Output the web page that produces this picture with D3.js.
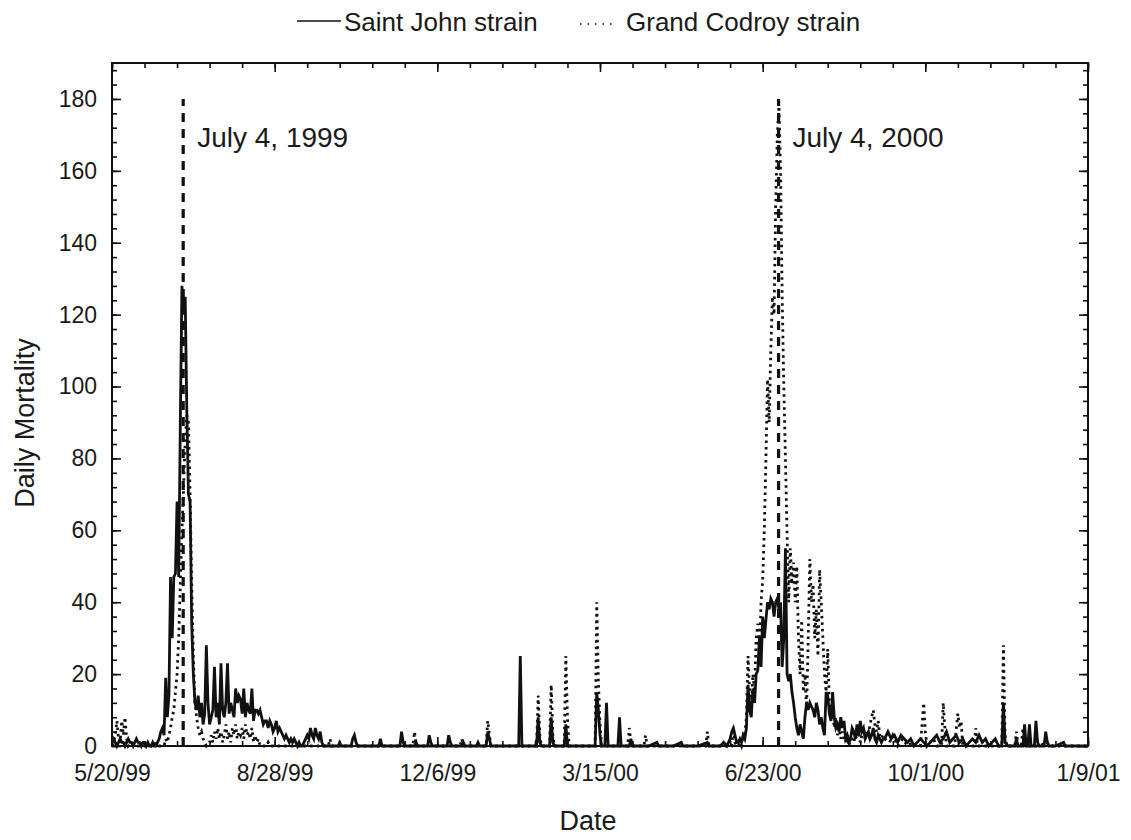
<!DOCTYPE html>
<html>
<head>
<meta charset="utf-8">
<script src="https://cdn.jsdelivr.net/npm/d3@7"></script>
<style>
	body { margin: 0; background: #fff; }
	svg { display: block; font-family: "Liberation Sans", Arial, sans-serif; }
	.tick-label { font-size: 23px; fill: #1a1a1a; }
</style>
</head>
<body>
<div id="chart"></div>
<script>

// day 0 of the record
var startDate = new Date(Date.UTC(1999, 4, 20));

// x tick labels every 100 days, minor ticks every 20
var xMajorDays = [0, 100, 200, 300, 400, 500, 600];
var xMinorDays = d3.range(0, 601, 20);
var yMajor = [0, 20, 40, 60, 80, 100, 120, 140, 160, 180];
var yMinor = d3.range(0, 190, 4);

// Saint John strain, daily values from day 0
var sj1999 = [1,2,1,0,1,2,1,1,0,1,
	2,1,1,0,1,2,1,1,0,1,
	1,0,1,0,0,1,0,0,1,2,
	4,5,3,19,8,14,47,30,47,48,
	68,47,90,128,120,125,93,70,68,34,
	20,12,10,14,8,12,6,9,28,12,
	6,8,10,22,8,12,6,23,10,8,
	12,23,9,12,10,8,16,12,14,13,
	9,16,8,12,10,9,16,7,10,10,
	9,10,8,6,7,7,5,7,6,4,
	5,7,4,5,4,3,2,3,2,1,
	2,1,2,1,0,1,0,0,1,2,
	3,2,5,3,2,5,3,2,4,1,0];

// Saint John strain, [day, value] over the winter
var sjMid = [[131,0],[139,0],[140,1],[141,0],[147,0],[148,2],[149,3],[150,1],[151,0],[164,0],[165,2],[166,0],
	[177,0],[178,4],[179,1],[180,0],[186,0],[187,1],[188,0],[194,0],[195,3],[196,1],[197,0],[206,0],[207,3],[208,1],[209,0],
	[215,0],[216,1],[217,0],[224,0],[225,1],[226,0],[230,0],[231,4],[232,2],[233,0],[250,0],[251,25],[252,0],
	[261,0],[262,8],[263,1],[264,0],[269,0],[270,8],[271,1],[272,0],[278,0],[279,6],[280,0],
	[297,0],[298,15],[299,10],[300,3],[301,0],[303,0],[304,12],[305,0],[311,0],[312,8],[313,0],[318,0],[319,2],[320,0],
	[330,0],[335,1],[336,0],[345,0],[350,1],[351,0],[360,0],[366,1],[367,0],[374,0],[376,1],[378,0],
	[380,2],[381,4],[382,5],[383,3],[384,1]];

// Saint John strain, daily values from day 385
var sj2000 = [1,2,1,3,2,5,17,10,8,16,
	12,20,21,30,22,36,30,35,40,38,
	41,40,36,40,41,38,40,22,30,55,
	20,18,20,15,12,8,5,3,6,4,
	2,8,12,10,12,11,10,8,12,10,
	6,8,5,3,15,14,9,7,15,8,
	5,6,4,8,5,7,2,3,1,2,
	5,4,2,6,3,7,4,5,2,3,
	4,2,3,5,2,1,3,2,1,2];

var sjLate = [[475,2],[477,4],[479,2],[481,3],[483,1],[485,3],[487,2],[489,1],[491,2],[493,0],[495,1],[497,2],[499,1],
	[501,0],[503,1],[505,2],[507,3],[509,1],[511,2],[513,4],[515,1],[517,2],[519,3],[521,1],[523,2],[525,0],
	[527,1],[529,2],[531,1],[533,3],[535,1],[537,2],[539,0],[541,1],[543,2],[545,0],[547,0],[548,12],[549,1],[551,0],
	[555,0],[556,2],[557,0],[560,0],[561,6],[562,0],[563,0],[564,6],[565,0],[567,0],[568,7],[569,1],[570,0],
	[573,0],[574,4],[575,1],[576,0],[580,0],[585,1],[586,0],[590,0],[600,0]];

// Grand Codroy strain, [day, value]
var gc1999 = [[0,0],[1,1],[2,3],[3,7],[4,2],[5,1],[6,7],[7,3],[8,8],[9,2],[10,0],[12,1],[14,0],[25,0],[26,1],[27,0],
	[32,0],[33,2],[34,1],[35,3],[36,5],[37,8],[38,10],[39,15],[40,20],[41,30],[42,45],[43,60],[44,72],[45,85],
	[46,92],[47,90],[48,70],[49,45],[50,25],[51,12],[52,8],[53,5],[54,3],[55,4],[56,2],[57,1],[58,0],
	[60,1],[61,3],[62,1],[63,4],[64,2],[65,5],[66,2],[67,4],[68,1],[69,3],[70,6],[71,2],[72,4],[73,1],[74,5],
	[75,3],[76,6],[77,2],[78,4],[79,3],[80,5],[81,2],[82,6],[83,3],[84,4],[85,2],[86,5],[87,1],[88,3],[89,1],
	[90,2],[91,0],[95,0],[96,1],[97,0],[110,0]];

var gcMid = [[133,0],[134,2],[135,0],[185,0],[186,4],[187,0],[214,0],[215,2],[216,0],[230,0],[231,7],[232,3],[233,0],
	[261,0],[262,14],[263,3],[264,0],[269,0],[270,17],[271,3],[272,0],[278,0],[279,25],[280,8],[281,0],
	[297,0],[298,40],[299,18],[300,6],[301,0],[317,0],[318,5],[319,1],[320,0],[327,0],[328,3],[329,0],
	[340,0],[365,0],[366,4],[367,0],[375,0],[381,0],[382,5],[383,1],[384,0]];

// Grand Codroy strain, daily values from day 385
var gc2000 = [0,1,0,2,3,8,25,15,10,20,
	15,30,34,25,40,46,60,80,102,90,
	110,125,120,150,170,178,160,125,100,80,
	59,40,55,45,51,40,50,30,20,35,
	15,20,10,30,52,40,45,30,38,25,
	49,40,30,20,15,27,12,8,10,5,
	8,3,5,2,4,2,1,3,0,2,
	2,1,3,2,4,1,3,5,2,4,
	3,6,8,10,6,4,7,3,2,3];

var gcLate = [[475,2],[478,1],[480,3],[483,0],[486,2],[489,0],[492,1],[495,0],[497,0],[499,12],[500,4],[501,0],
	[505,2],[507,0],[510,0],[511,12],[512,5],[513,0],[518,0],[520,9],[521,5],[522,7],[523,0],[530,0],[531,5],[532,0],
	[547,0],[548,28],[549,3],[550,0],[555,0],[556,4],[557,0],[559,0],[560,5],[561,0],[570,0],[575,1],[576,0],[600,0]];

// July 4 markers
var markerDays = [45, 411];
var markerLabels = ['July 4, 1999', 'July 4, 2000'];
var markerTop = 180;

var seriesNames = ['Saint John strain', 'Grand Codroy strain'];

var width = 1131, height = 840;
var margin = {top: 63, right: 43, bottom: 94, left: 112};

/**
 * Turns a daily run starting at firstDay into [day, value] pairs
 */
var daily = function(firstDay, values) {
	return values.map(function(v, i) { return [firstDay + i, v]; });
};

var sjData = daily(0, sj1999).concat(sjMid, daily(385, sj2000), sjLate);
var gcData = gc1999.concat(gcMid, daily(385, gc2000), gcLate);

var toDate = function(d) { return d3.utcDay.offset(startDate, d); };

var svg = d3.select('#chart').append('svg')
	.attr('width', width)
	.attr('height', height);

var x = d3.scaleUtc()
	.domain([startDate, toDate(600)])
	.range([margin.left, width - margin.right]);

var y = d3.scaleLinear()
	.domain([0, 190])
	.range([height - margin.bottom, margin.top]);

var line = d3.line()
	.x(function(d) { return x(toDate(d[0])); })
	.y(function(d) { return y(d[1]); });

/**
 * Series
 */
svg.append('path')
	.datum(gcData)
	.attr('fill', 'none')
	.attr('stroke', '#111')
	.attr('stroke-width', 2.8)
	.attr('stroke-dasharray', '2.5,4')
	.attr('d', line);

svg.append('path')
	.datum(sjData)
	.attr('fill', 'none')
	.attr('stroke', '#111')
	.attr('stroke-width', 2.8)
	.attr('stroke-linejoin', 'miter')
	.attr('d', line);

/**
 * July 4 markers
 */
markerDays.forEach(function(day, i) {
	svg.append('line')
		.attr('x1', x(toDate(day)) - 2)
		.attr('x2', x(toDate(day)) - 2)
		.attr('y1', y(0))
		.attr('y2', y(markerTop))
		.attr('stroke', '#111')
		.attr('stroke-width', 3.2)
		.attr('stroke-dasharray', '9,7');

	svg.append('text')
		.attr('x', x(toDate(day)) + 12)
		.attr('y', y(166.5))
		.attr('font-size', 28)
		.attr('fill', '#1a1a1a')
		.text(markerLabels[i]);
});

/**
 * Axes, ticks pointing inward on all four sides
 */
var xTickDates = xMajorDays.map(toDate);
var xMinorDates = xMinorDays.map(toDate);

var addAxis = function(axis, tx, ty) {
	var g = svg.append('g')
		.attr('transform', 'translate(' + tx + ',' + ty + ')')
		.call(axis);
	g.select('.domain').remove();
	g.selectAll('line').attr('stroke', '#111').attr('stroke-width', 1.6);
	return g;
};

var bottomY = height - margin.bottom;
var rightX = width - margin.right;

// minor ticks
addAxis(d3.axisBottom(x).tickValues(xMinorDates).tickSize(-5).tickFormat(''), 0, bottomY);
addAxis(d3.axisTop(x).tickValues(xMinorDates).tickSize(-5).tickFormat(''), 0, margin.top);
addAxis(d3.axisLeft(y).tickValues(yMinor).tickSize(-5).tickFormat(''), margin.left, 0);
addAxis(d3.axisRight(y).tickValues(yMinor).tickSize(-5).tickFormat(''), rightX, 0);

// major ticks with labels
var xAxis = addAxis(d3.axisBottom(x).tickValues(xTickDates).tickSize(-9).tickPadding(19)
	.tickFormat(d3.utcFormat('%-m/%-d/%y')), 0, bottomY);
xAxis.selectAll('text').attr('class', 'tick-label');

var yAxis = addAxis(d3.axisLeft(y).tickValues(yMajor).tickSize(-9).tickPadding(15), margin.left, 0);
yAxis.selectAll('text').attr('class', 'tick-label');

addAxis(d3.axisTop(x).tickValues(xTickDates).tickSize(-9).tickFormat(''), 0, margin.top);
addAxis(d3.axisRight(y).tickValues(yMajor).tickSize(-9).tickFormat(''), rightX, 0);

// plot frame
svg.append('rect')
	.attr('x', margin.left)
	.attr('y', margin.top)
	.attr('width', rightX - margin.left)
	.attr('height', bottomY - margin.top)
	.attr('fill', 'none')
	.attr('stroke', '#111')
	.attr('stroke-width', 2);

/**
 * Axis titles
 */
svg.append('text')
	.attr('x', 588)
	.attr('y', 830)
	.attr('text-anchor', 'middle')
	.attr('font-size', 27)
	.attr('fill', '#1a1a1a')
	.text('Date');

svg.append('text')
	.attr('transform', 'translate(34,' + 423 + ') rotate(-90)')
	.attr('text-anchor', 'middle')
	.attr('font-size', 27)
	.attr('fill', '#1a1a1a')
	.text('Daily Mortality');

/**
 * Legend
 */
var legend = svg.append('g');

legend.append('line')
	.attr('x1', 297).attr('x2', 341)
	.attr('y1', 21).attr('y2', 21)
	.attr('stroke', '#111').attr('stroke-width', 1.6);

legend.append('text')
	.attr('x', 344).attr('y', 31)
	.attr('font-size', 26)
	.attr('fill', '#1a1a1a')
	.text(seriesNames[0]);

legend.append('line')
	.attr('x1', 580).attr('x2', 616)
	.attr('y1', 24).attr('y2', 24)
	.attr('stroke', '#111').attr('stroke-width', 1.6)
	.attr('stroke-dasharray', '1.5,6');

legend.append('text')
	.attr('x', 626).attr('y', 31)
	.attr('font-size', 26)
	.attr('fill', '#1a1a1a')
	.text(seriesNames[1]);

</script>
</body>
</html>
